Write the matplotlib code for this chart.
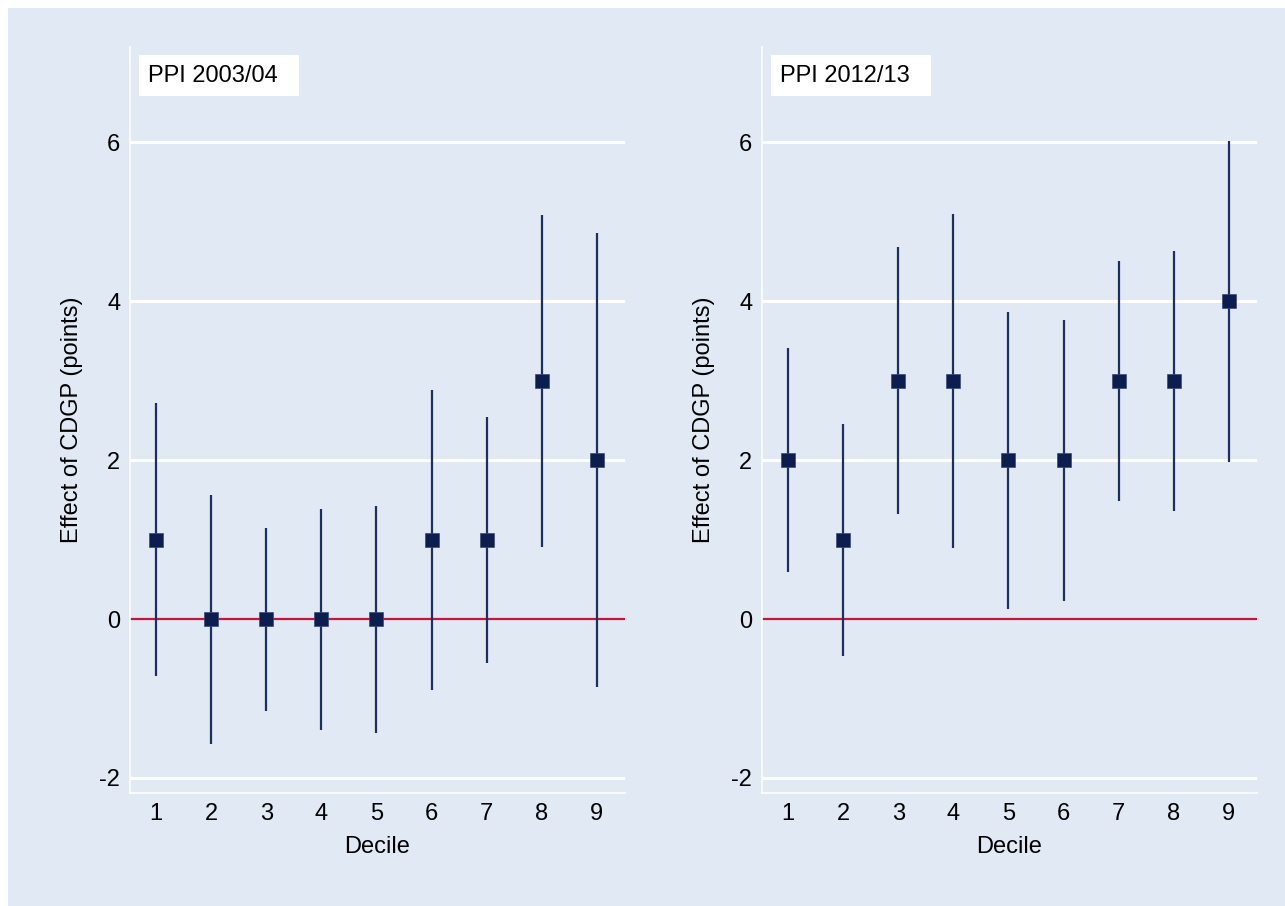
import numpy as np
import matplotlib
matplotlib.use('Agg')
import matplotlib.pyplot as plt
from matplotlib.patches import Rectangle

plt.rcParams['font.family'] = ['Liberation Sans', 'DejaVu Sans']
plt.rcParams['axes.unicode_minus'] = False

# donnees
deciles = [1, 2, 3, 4, 5, 6, 7, 8, 9]
titles = ['PPI 2003/04', 'PPI 2012/13']
est_0304 = [1, 0, 0, 0, 0, 1, 1, 3, 2]
lo_0304 = [-0.72, -1.57, -1.16, -1.40, -1.43, -0.89, -0.55, 0.91, -0.86]
hi_0304 = [2.72, 1.56, 1.14, 1.38, 1.42, 2.88, 2.54, 5.09, 4.86]
est_1213 = [2, 1, 3, 3, 2, 2, 3, 3, 4]
lo_1213 = [0.59, -0.47, 1.32, 0.90, 0.13, 0.23, 1.49, 1.36, 1.98]
hi_1213 = [3.41, 2.46, 4.68, 5.10, 3.86, 3.76, 4.51, 4.63, 6.02]
yticks = [-2, 0, 2, 4, 6]

bg = '#e1e9f5'
navy = '#0c1e4f'
line_col = '#1d2f60'
red = '#c8143c'
fs = 17

W, H = 1285, 906
fig = plt.figure(figsize=(W / 100, H / 100), dpi=100, facecolor='white')
# fond bleu avec une petite marge blanche en haut et a gauche
fig.patches.append(Rectangle((8 / W, 0), 1 - 8 / W, 1 - 8 / H, transform=fig.transFigure,
                             facecolor=bg, edgecolor='none', zorder=-10))

aw, ah = 495, 746
panels = [(130, est_0304, lo_0304, hi_0304), (762, est_1213, lo_1213, hi_1213)]
for (left, est, lo, hi), title in zip(panels, titles):
    ax = fig.add_axes([left / W, 1 - 793 / H, aw / W, ah / H])
    ax.set_facecolor(bg)
    ax.set_xlim(0.53, 9.51)
    ax.set_ylim(-2.19, 7.2)

    for y in yticks:
        if y != 0:
            ax.axhline(y, color='white', lw=2.2, zorder=1)
    ax.axhline(0, color=red, lw=1.6, zorder=2)

    ax.vlines(deciles, lo, hi, color=line_col, lw=1.6, zorder=3)
    ax.plot(deciles, est, 's', color=navy, markersize=10, markeredgecolor='#3a4a78',
            markeredgewidth=0.5, zorder=4)

    ax.set_yticks(yticks)
    ax.set_xticks(deciles)
    ax.tick_params(length=0, labelsize=fs, pad=7)
    for s in ['top', 'right']:
        ax.spines[s].set_visible(False)
    for s in ['left', 'bottom']:
        ax.spines[s].set_color('white')
        ax.spines[s].set_linewidth(1.2)

    ax.set_ylabel('Effect of CDGP (points)', fontsize=fs)
    ax.yaxis.set_label_coords(-0.095, 0.5)
    ax.set_xlabel('Decile', fontsize=fs)
    ax.xaxis.set_label_coords(0.5, -0.058)

    # boite du titre
    ax.add_patch(Rectangle((9 / aw, 1 - 49 / ah), 160 / aw, 41 / ah, transform=ax.transAxes,
                           facecolor='white', edgecolor='none', zorder=5, clip_on=False))
    ax.text(18 / aw, 1 - 29 / ah, title, transform=ax.transAxes, fontsize=fs,
            va='center', ha='left', zorder=6)

fig.savefig('out.png', dpi=100, facecolor=fig.get_facecolor())
